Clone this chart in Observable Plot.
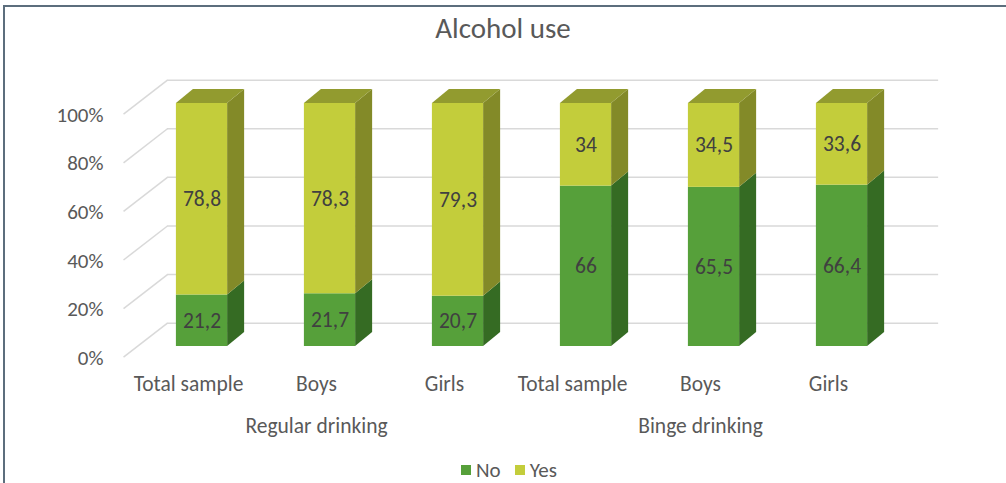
<!DOCTYPE html>
<html><head><meta charset="utf-8">
<script src="https://cdn.jsdelivr.net/npm/d3@7"></script>
<script src="https://cdn.jsdelivr.net/npm/@observablehq/plot@0.6"></script>
<style>
html,body{margin:0;padding:0;background:#fff;overflow:hidden}
#wrap{position:relative;width:1006px;height:483px;overflow:hidden;font-family:Carlito,Lato,sans-serif;color:#595959}
#frame{position:absolute;left:3px;top:5px;width:1030px;height:520px;border-left:2px solid #5c6e7d;border-top:2px solid #5c6e7d}
#title{position:absolute;left:0;top:0;width:1006px;height:56px;line-height:56px;text-align:center;font-size:29px}
#chart{position:absolute;left:0;top:55px}
#legend{position:absolute;left:0;top:460px;width:1006px;height:20px;line-height:20px;display:flex;justify-content:center;gap:14px;font-size:21px;padding-left:12px;box-sizing:border-box}
#legend span.item{display:flex;align-items:center;gap:5px}
#legend i{display:inline-block;width:10px;height:10px}
</style>
</head><body>
<div id="wrap">
  <div id="frame"></div>
  <div id="title">Alcohol use</div>
  <div id="chart"></div>
  <div id="legend"></div>
</div>
<script>
// ---- data ----
const categories = ["Total sample", "Boys", "Girls", "Total sample", "Boys", "Girls"];
const groupOf = [0, 0, 0, 1, 1, 1];
const groups = ["Regular drinking", "Binge drinking"];
const seriesNames = ["No", "Yes"];
const noValues = [21.2, 21.7, 20.7, 66, 65.5, 66.4];
const yesValues = [78.8, 78.3, 79.3, 34, 34.5, 33.6];
const yTicks = [0, 20, 40, 60, 80, 100];

// ---- styles / geometry (scale units) ----
const colors = {
  No: {front: "#56a03a", side: "#356b23"},
  Yes: {front: "#c3cd3b", side: "#838a28", top: "#929b2f"}
};
const H = 0.2;          // half width of bar front face (x units)
const DX = 0.133;       // bar depth, x units
const DY = 5.8;         // bar depth, y units
const WALL_BACK_DY = 9.6;
const WALL_FRONT_DY = -4.4;
const XL_BACK = -0.27, XL_FRONT = -0.613, XR_BACK = 5.755;
const LABEL_DX = -13.5;  // front-plane shift for category labels (px)

const idx = categories.map((_, i) => i);
const segs = [];
idx.forEach(i => {
  segs.push({i, series: "No", lo: 0, hi: noValues[i], value: noValues[i]});
  segs.push({i, series: "Yes", lo: noValues[i], hi: noValues[i] + yesValues[i], value: yesValues[i]});
});
const sidePts = s => [
  {key: s.i + s.series, x: s.i + H, y1: s.lo, y2: s.hi},
  {key: s.i + s.series, x: s.i + H + DX, y1: s.lo + DY, y2: s.hi + DY}
];
const sideNo = segs.filter(s => s.series === "No").flatMap(sidePts);
const sideYes = segs.filter(s => s.series === "Yes").flatMap(sidePts);
const topPts = idx.flatMap(i => {
  const t = noValues[i] + yesValues[i];
  return [
    {key: i, y: t, x1: i - H, x2: i + H},
    {key: i, y: t + DY, x1: i - H + DX, x2: i + H + DX}
  ];
});
const groupCenters = groups.map((g, k) => {
  const m = idx.filter(i => groupOf[i] === k);
  return {label: g, x: d3.mean(m)};
});
const fmt = v => String(v).replace(".", ",");

const chart = Plot.plot({
  width: 1006,
  height: 400,
  marginLeft: 106,
  marginRight: 60,
  marginTop: 20,
  marginBottom: 80,
  style: {fontFamily: "Carlito, Lato, sans-serif", fontSize: "21px", color: "#595959", background: "transparent"},
  x: {type: "linear", domain: [0, 5], range: [201.5, 841.5]},
  y: {type: "linear", domain: [0, 100], range: [291, 48]},
  marks: [
    Plot.ruleY(yTicks, {y: d => d + WALL_BACK_DY, x1: XL_BACK, x2: XR_BACK, stroke: "#d9d9d9", strokeWidth: 1.5}),
    Plot.link(yTicks, {x1: XL_BACK, y1: d => d + WALL_BACK_DY, x2: XL_FRONT, y2: d => d + WALL_FRONT_DY, stroke: "#d9d9d9", strokeWidth: 1.5}),
    Plot.area(sideNo, {x1: "x", y1: "y1", y2: "y2", z: "key", fill: colors.No.side}),
    Plot.area(sideYes, {x1: "x", y1: "y1", y2: "y2", z: "key", fill: colors.Yes.side}),
    Plot.area(topPts, {y1: "y", x1: "x1", x2: "x2", z: "key", fill: colors.Yes.top}),
    Plot.rect(segs, {x1: d => d.i - H, x2: d => d.i + H, y1: "lo", y2: "hi", fill: d => colors[d.series].front}),
    Plot.text(segs, {x: "i", y: d => (d.lo + d.hi) / 2, text: d => fmt(d.value), fill: "#404040", fontSize: 21.5}),
    Plot.axisY(yTicks, {tickSize: 0, tickPadding: 3, dy: 11.5, tickFormat: d => d + "%", fontSize: 21, label: null}),
    Plot.axisX(idx, {tickSize: 0, tickPadding: 0, dx: LABEL_DX, tickFormat: i => categories[i], fontSize: 21.5, label: null}),
    Plot.text(groupCenters, {x: "x", text: "label", frameAnchor: "bottom", dy: 57, dx: LABEL_DX, fontSize: 21.5, fill: "#595959"})
  ]
});
document.getElementById("chart").appendChild(chart);

const legend = document.getElementById("legend");
seriesNames.forEach(n => {
  const s = document.createElement("span");
  s.className = "item";
  s.innerHTML = `<i style="background:${colors[n].front}"></i>${n}`;
  legend.appendChild(s);
});
</script>
</body></html>
